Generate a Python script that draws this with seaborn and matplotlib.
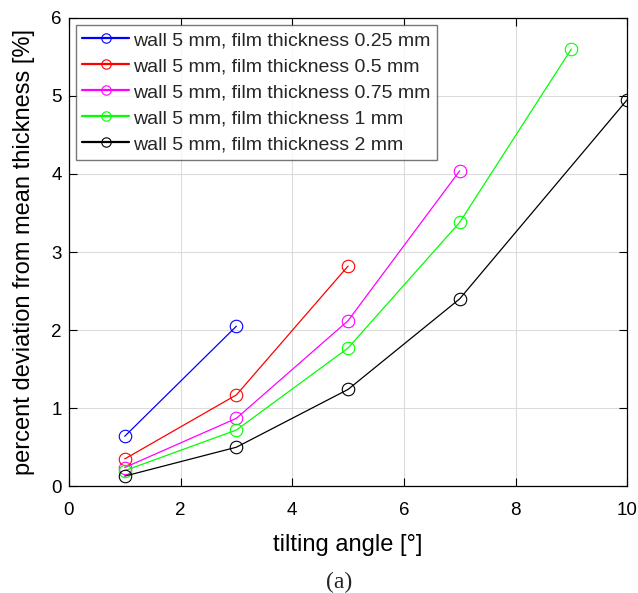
import matplotlib
matplotlib.use("Agg")
import matplotlib.pyplot as plt
import seaborn as sns
import pandas as pd

labels = ["wall 5 mm, film thickness 0.25 mm",
          "wall 5 mm, film thickness 0.5 mm",
          "wall 5 mm, film thickness 0.75 mm",
          "wall 5 mm, film thickness 1 mm",
          "wall 5 mm, film thickness 2 mm"]
colors = ["#0000ff", "#ff0000", "#ff00ff", "#00ff00", "#000000"]

x_025 = [1, 3]
y_025 = [0.64, 2.05]
x_05 = [1, 3, 5]
y_05 = [0.35, 1.17, 2.82]
x_075 = [1, 3, 5, 7]
y_075 = [0.24, 0.87, 2.12, 4.04]
x_1 = [1, 3, 5, 7, 9]
y_1 = [0.20, 0.72, 1.77, 3.38, 5.60]
x_2 = [1, 3, 5, 7, 10]
y_2 = [0.13, 0.50, 1.24, 2.40, 4.95]

xs = [x_025, x_05, x_075, x_1, x_2]
ys = [y_025, y_05, y_075, y_1, y_2]

sns.set_theme(style="whitegrid")
plt.rcParams['font.family'] = ['Liberation Sans', 'DejaVu Sans']

fig = plt.figure(figsize=(6.38, 5.93), dpi=100)
ax = fig.add_axes([0.108, 0.180, 0.875, 0.790])

for lab, c, x, y in zip(labels, colors, xs, ys):
    df = pd.DataFrame({"x": x, "y": y})
    sns.lineplot(data=df, x="x", y="y", ax=ax, color=c, marker="o",
                 markersize=9, markerfacecolor="none", markeredgecolor=c,
                 markeredgewidth=0.8, linewidth=0.9, label=lab)

ax.set_xlim(0, 10)
ax.set_ylim(0, 6)
ax.set_xticks([0, 2, 4, 6, 8, 10])
ax.set_yticks([0, 1, 2, 3, 4, 5, 6])
ax.grid(True, color="#dcdcdc", linewidth=0.8)
ax.set_facecolor("white")
for s in ax.spines.values():
    s.set_color("black")
    s.set_linewidth(0.9)
ax.tick_params(direction="in", length=6, width=0.8, colors="black",
               labelsize=13.5, top=True, right=True, bottom=True, left=True,
               labeltop=False, labelright=False)
ax.tick_params(axis="x", pad=11)
ax.tick_params(axis="y", pad=5)
ax.set_xlabel("tilting angle [°]", fontsize=17, color="black", labelpad=11)
ax.set_ylabel("percent deviation from mean thickness [%]", fontsize=17,
              color="black", labelpad=12)

leg = ax.legend(loc="upper left", bbox_to_anchor=(0.012, 0.985), fontsize=14,
                frameon=True, fancybox=False, edgecolor="#555555",
                handlelength=2.4, handletextpad=0.2, borderpad=0.35,
                labelspacing=0.43, borderaxespad=0.0, markerscale=0.75)
leg.get_frame().set_linewidth(1.0)
for h in leg.get_lines():
    h.set_linewidth(1.6)

fig.text(0.531, 0.017, "(a)", ha="center", va="center", fontsize=17,
         family=["Liberation Serif", "DejaVu Serif"])

fig.savefig("out.png", dpi=100, facecolor="white")
